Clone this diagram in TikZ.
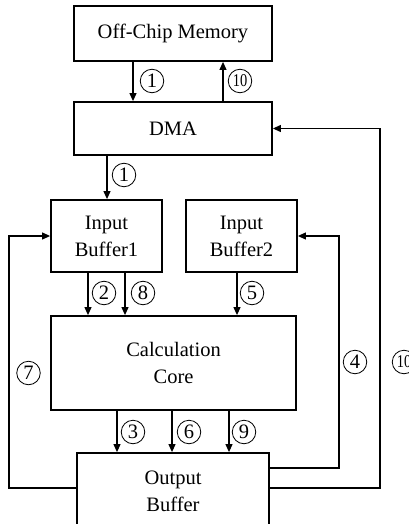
\documentclass[tikz,border=0pt]{standalone}
\usepackage{fontspec}
\setmainfont{Liberation Serif}
\usetikzlibrary{arrows.meta}
\begin{document}
\begin{tikzpicture}[x=1pt,y=-1pt,
  box/.style={draw, line width=1.8pt, align=center, inner sep=0pt,
    font=\fontsize{20.5}{27}\selectfont},
  arr/.style={line width=1.1pt, -{Triangle[length=8pt,width=7pt]}},
  wire/.style={line width=1.1pt},
  num/.style={circle, draw, line width=0.8pt, minimum size=23.5pt, inner sep=0pt,
    font=\fontsize{20.5}{20.5}\selectfont},
  num2/.style={num, font=\fontsize{18}{18}\selectfont}]
\useasboundingbox (0,0) rectangle (409,524);
\clip (0,0) rectangle (409,524);
\node[box, minimum width=198pt, minimum height=55pt] (mem) at (173,33.5) {Off-Chip Memory};
\node[box, minimum width=198pt, minimum height=53pt] (dma) at (173,128.5) {DMA};
\node[box, minimum width=111pt, minimum height=72pt] (ib1) at (106.5,236) {Input\\Buffer1};
\node[box, minimum width=111pt, minimum height=72pt] (ib2) at (241.5,236) {Input\\Buffer2};
\node[box, minimum width=245pt, minimum height=94pt] (core) at (173.5,363) {Calculation\\Core};
\node[box, minimum width=192pt, minimum height=77pt] (out) at (173,491.5) {Output\\Buffer};
% connectors
\draw[arr] (133,0 |- mem.south) -- (133,0 |- dma.north);
\draw[arr] (223,0 |- dma.north) -- (223,0 |- mem.south);
\draw[arr] (107,0 |- dma.south) -- (107,0 |- ib1.north);
\draw[arr] (88,0 |- ib1.south) -- (88,0 |- core.north);
\draw[arr] (125,0 |- ib1.south) -- (125,0 |- core.north);
\draw[arr] (237,0 |- ib2.south) -- (237,0 |- core.north);
\draw[arr] (117,0 |- core.south) -- (117,0 |- out.north);
\draw[arr] (172,0 |- core.south) -- (172,0 |- out.north);
\draw[arr] (229,0 |- core.south) -- (229,0 |- out.north);
\coordinate (l7) at (9,488);
\coordinate (r4) at (339,468);
\coordinate (r10) at (380,488);
\draw[wire, -{Triangle[length=8pt,width=7pt]}] (out.west |- l7) -- (l7) |- (ib1.west);
\draw[wire, -{Triangle[length=8pt,width=7pt]}] (out.east |- r4) -- (r4) |- (ib2.east);
\draw[wire, -{Triangle[length=8pt,width=7pt]}] (out.east |- r10) -- (r10) |- (dma.east);
% labels
\node[num] (n1a) at (152,81) {1};
\node[num2] (n10a) at (240,81) {\scalebox{0.8}[1]{10}};
\node[num] (n1b) at (124,175) {1};
\node[num] (n2) at (104,293) {2};
\node[num] (n8) at (143,293) {8};
\node[num] (n5) at (252,293) {5};
\node[num] (n3) at (133,432) {3};
\node[num] (n6) at (189,432) {6};
\node[num] (n9) at (244,432) {9};
\node[num] (n7) at (28.5,373) {7};
\node[num] (n4) at (355,362) {4};
\node[num2] (n10b) at (404,362) {\scalebox{0.8}[1]{10}};
\end{tikzpicture}
\end{document}
